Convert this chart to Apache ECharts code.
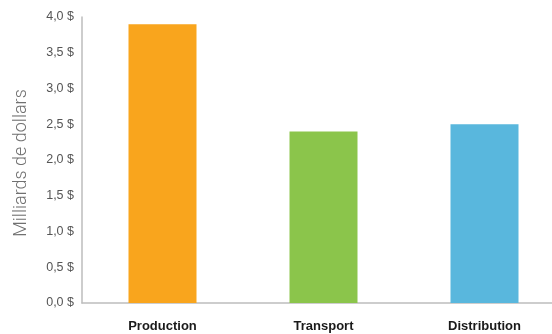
<!DOCTYPE html>
<html>
<head>
<meta charset="utf-8">
<script src="https://cdn.jsdelivr.net/npm/echarts@6/dist/echarts.min.js"></script>
<style>
  html, body { margin: 0; padding: 0; background: #fff; }
  #chart { width: 552px; height: 334px; }
</style>
</head>
<body>
<div id="chart"></div>
<script>
// Coûts par étape de la chaîne (milliards de dollars)
const categories = ['Production', 'Transport', 'Distribution'];
const values = [3.9, 2.4, 2.5];
const barColors = ['#F9A51D', '#8BC54B', '#59B7DD'];
const yTicks = { min: 0, max: 4, interval: 0.5 };

const chart = echarts.init(document.getElementById('chart'), null, { renderer: 'canvas' });

chart.setOption({
  animation: false,
  grid: {
    left: 82, right: -13, top: 17, bottom: 31,
    containLabel: false,
    outerBoundsMode: 'none'
  },
  xAxis: {
    type: 'category',
    data: categories,
    axisLine: { show: true, lineStyle: { color: '#bdbdbd', width: 1.5 } },
    axisTick: { show: false },
    axisLabel: {
      margin: 17,
      color: '#1a1a1a',
      fontFamily: 'Liberation Sans',
      fontWeight: 'bold',
      fontSize: 13
    }
  },
  yAxis: {
    type: 'value',
    min: yTicks.min,
    max: yTicks.max,
    interval: yTicks.interval,
    name: 'Milliards de dollars',
    nameLocation: 'middle',
    nameGap: 52,
    nameRotate: 90,
    nameTextStyle: {
      color: '#707070',
      fontFamily: 'Roboto',
      fontWeight: 300,
      fontSize: 18,
      padding: [0, 6, 0, 0]
    },
    axisLine: { show: true, lineStyle: { color: '#bdbdbd', width: 1.5 } },
    axisTick: { show: false },
    splitLine: { show: false },
    axisLabel: {
      margin: 8,
      color: '#555',
      fontFamily: 'Liberation Sans',
      fontSize: 12.5,
      formatter: v => v.toFixed(1).replace('.', ',') + ' $'
    }
  },
  series: [{
    type: 'bar',
    barWidth: 68,
    data: values.map((v, i) => ({ value: v, itemStyle: { color: barColors[i] } }))
  }]
});
</script>
</body>
</html>
